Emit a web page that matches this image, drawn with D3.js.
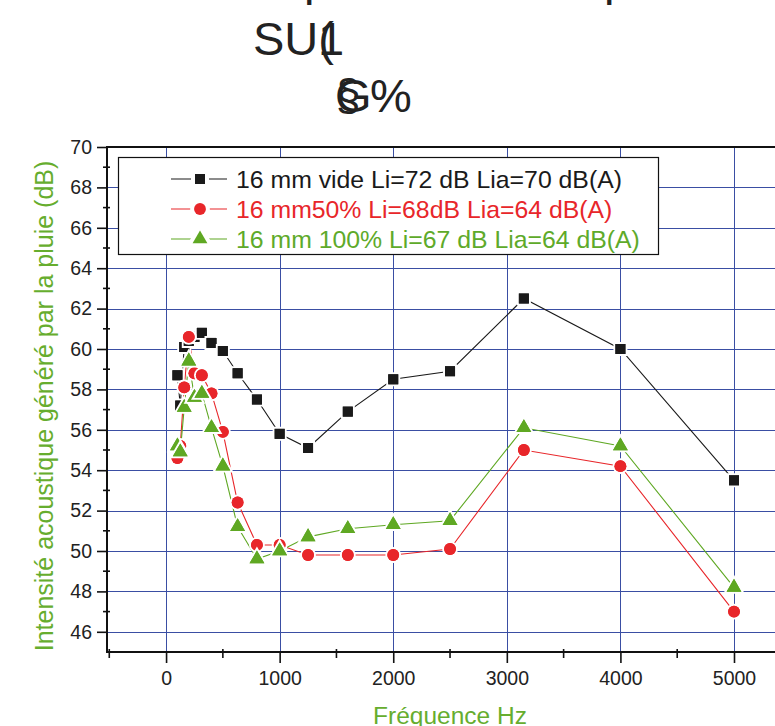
<!DOCTYPE html>
<html><head><meta charset="utf-8">
<script src="https://cdn.jsdelivr.net/npm/d3@7"></script>
<style>
html,body{margin:0;padding:0;background:#fff;}
text{font-family:"Liberation Sans",Arial,sans-serif;}
</style></head>
<body>
<svg id="c" width="775" height="726"></svg>
<script>
const freqs = [100,125,160,200,250,315,400,500,630,800,1000,1250,1600,2000,2500,3150,4000,5000];
const vide = [58.7,57.2,60.1,60.4,60.6,60.8,60.3,59.9,58.8,57.5,55.8,55.1,56.9,58.5,58.9,62.5,60.0,53.5];
const pct50 = [54.6,55.2,58.1,60.6,58.8,58.7,57.8,55.9,52.4,50.3,50.3,49.8,49.8,49.8,50.1,55.0,54.2,47.0];
const pct100 = [55.2,54.9,57.1,59.4,57.6,57.8,56.1,54.2,51.2,49.6,50.0,50.7,51.1,51.3,51.5,56.1,55.2,48.2];
const seriesNames = ["16 mm vide Li=72 dB Lia=70 dB(A)","16 mm50% Li=68dB Lia=64 dB(A)","16 mm 100% Li=67 dB Lia=64 dB(A)"];
const xTicks = [0,1000,2000,3000,4000,5000];
const yTicks = [46,48,50,52,54,56,58,60,62,64,66,68,70];
const xTitle = "Fréquence Hz";
const yTitle = "Intensité acoustique généré par la pluie (dB)";

const colors = ["#1a1a1a","#e8262a","#5fa823"];
const textColors = ["#1a1a1a","#e8262a","#5eaa2a"];
const shapes = [d3.symbolSquare, d3.symbolCircle, d3.symbolTriangle];
const symSizes = [100, 110, 95];

const svg = d3.select("#c");
svg.append("rect").attr("width",775).attr("height",726).attr("fill","#fff");

const x = d3.scaleLinear().domain([-520,5000]).range([107,734]);
const y = d3.scaleLinear().domain([45,70]).range([652,147]);
const xEnd = 800;

// garbled title fragments
const tg = svg.append("g").attr("fill","#222").attr("font-size",47);
tg.append("text").attr("x",304).attr("y",-5).text("p");
tg.append("text").attr("x",604).attr("y",-5).text("p");
tg.append("text").attr("x",253).attr("y",55).text("SU(");
tg.append("text").attr("x",318).attr("y",55).text("1");
tg.append("text").attr("x",335).attr("y",112).text("G");
tg.append("text").attr("x",336).attr("y",110).attr("font-size",44).text("§");
tg.append("text").attr("x",370).attr("y",112).text("%");

// grid
const grid = svg.append("g").attr("stroke","#3a4ea3").attr("stroke-width",1);
yTicks.filter(v=>v<70).forEach(v=>{
  grid.append("line").attr("x1",107).attr("x2",xEnd).attr("y1",Math.round(y(v))+0.5).attr("y2",Math.round(y(v))+0.5);
});
xTicks.forEach(v=>{
  grid.append("line").attr("x1",Math.round(x(v))+0.5).attr("x2",Math.round(x(v))+0.5).attr("y1",147).attr("y2",652);
});

// axes
const axG = svg.append("g");
const yAxis = d3.axisLeft(y).tickValues(yTicks).tickSize(10).tickPadding(5).tickFormat(d3.format("d"));
const ya = axG.append("g").attr("transform","translate(107,0)").call(yAxis);
ya.select(".domain").remove();
ya.selectAll(".tick line").attr("stroke","#111").attr("stroke-width",1.6);
ya.selectAll(".tick text").attr("font-size",19.5).attr("fill","#222").attr("font-family","Liberation Sans, Arial, sans-serif");
const yMinor = d3.range(47,70,2);
yMinor.forEach(v=>{
  axG.append("line").attr("x1",103).attr("x2",110).attr("y1",y(v)).attr("y2",y(v)).attr("stroke","#111").attr("stroke-width",1.6);
});
const xAxis = d3.axisBottom(x).tickValues(xTicks).tickSize(11).tickPadding(8).tickFormat(d3.format("d"));
const xa = axG.append("g").attr("transform","translate(0,652)").call(xAxis);
xa.select(".domain").remove();
xa.selectAll(".tick line").attr("stroke","#111").attr("stroke-width",1.6);
xa.selectAll(".tick text").attr("font-size",19.5).attr("fill","#222").attr("font-family","Liberation Sans, Arial, sans-serif");
const xMinor = [-500,500,1500,2500,3500,4500,5500];
xMinor.forEach(v=>{
  axG.append("line").attr("x1",x(v)).attr("x2",x(v)).attr("y1",649).attr("y2",658).attr("stroke","#111").attr("stroke-width",1.6);
});
axG.append("line").attr("x1",107).attr("x2",107).attr("y1",146).attr("y2",653).attr("stroke","#111").attr("stroke-width",2);
axG.append("line").attr("x1",106).attr("x2",xEnd).attr("y1",652).attr("y2",652).attr("stroke","#111").attr("stroke-width",2);
axG.append("line").attr("x1",106).attr("x2",xEnd).attr("y1",147).attr("y2",147).attr("stroke","#111").attr("stroke-width",2);

// titles
svg.append("text").attr("x",450).attr("y",724).attr("text-anchor","middle").attr("font-size",24.5).attr("fill","#66ad2e").text(xTitle);
svg.append("text").attr("transform","translate(53,406) rotate(-90)").attr("text-anchor","middle").attr("font-size",25).attr("fill","#66ad2e").text(yTitle);

// series
const data = [vide,pct50,pct100];
const line = d3.line().x(d=>x(d[0])).y(d=>y(d[1]));
data.forEach((vals,i)=>{
  const pts = freqs.map((f,j)=>[f,vals[j]]);
  svg.append("path").attr("d",line(pts)).attr("fill","none").attr("stroke",colors[i]).attr("stroke-width",1.1);
});
data.forEach((vals,i)=>{
  const sym = d3.symbol().type(shapes[i]).size(symSizes[i]);
  const g = svg.append("g");
  freqs.forEach((f,j)=>{
    g.append("path").attr("d",sym()).attr("transform",`translate(${x(f)},${y(vals[j])})`)
      .attr("fill",colors[i]).attr("stroke","#fff").attr("stroke-width",4).attr("paint-order","stroke");
  });
  g.selectAll("path").clone(true).attr("stroke","none");
});

// legend
const lg = svg.append("g");
lg.append("rect").attr("x",118.5).attr("y",157.5).attr("width",540).attr("height",97).attr("fill","#fff").attr("stroke","#111").attr("stroke-width",1.2);
const legendY = [179,209,239];
seriesNames.forEach((n,i)=>{
  const yy = legendY[i];
  lg.append("line").attr("x1",171).attr("x2",227).attr("y1",yy).attr("y2",yy).attr("stroke",colors[i]).attr("stroke-width",1.1);
  const sym = d3.symbol().type(shapes[i]).size(symSizes[i]);
  lg.append("path").attr("d",sym()).attr("transform",`translate(200,${yy})`).attr("fill",colors[i]).attr("stroke","#fff").attr("stroke-width",8).attr("paint-order","stroke");
  lg.append("text").attr("x",236).attr("y",yy).attr("dy","0.36em").attr("font-size",24.8).attr("fill",textColors[i]).text(n);
});
</script>
</body></html>
